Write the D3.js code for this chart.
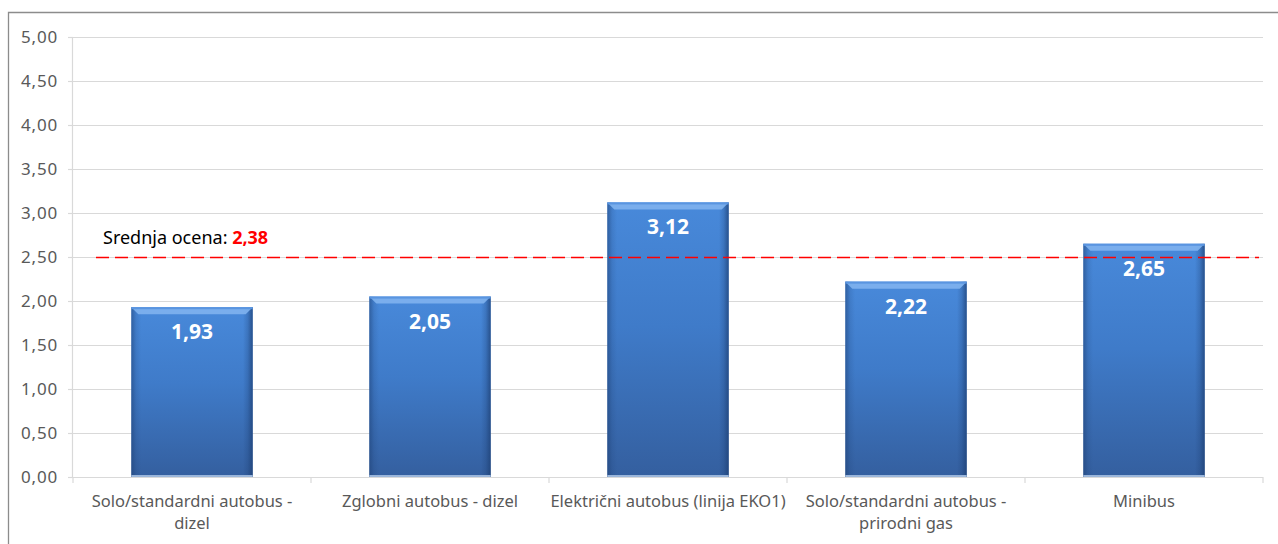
<!DOCTYPE html>
<html>
<head>
<meta charset="utf-8">
<script src="https://cdn.jsdelivr.net/npm/d3@7"></script>
<style>
  html, body { margin: 0; padding: 0; background: #fff; }
  svg text { font-family: "Noto Sans", "Open Sans", sans-serif; }
</style>
</head>
<body>
<div id="chart"></div>
<script>
const categories = [
  ['Solo/standardni autobus -', 'dizel'],
  ['Zglobni autobus - dizel'],
  ['Električni autobus (linija EKO1)'],
  ['Solo/standardni autobus -', 'prirodni gas'],
  ['Minibus']
];
const values = [1.93, 2.05, 3.12, 2.22, 2.65];
const yTicks = [0, 0.5, 1, 1.5, 2, 2.5, 3, 3.5, 4, 4.5, 5];
const meanLineValue = 2.5;
const meanLabel = 'Srednja ocena: ';
const meanValueText = '2,38';

const W = 1278, H = 544;
const margin = { top: 37, right: 15, bottom: 67, left: 73 };
const width = 1263 - margin.left;
const height = 477 - margin.top;

const fmt = v => d3.format('.2f')(v).replace('.', ',');

const svg = d3.select('#chart').append('svg')
  .attr('width', W).attr('height', H);

// outer chart frame
svg.append('path')
  .attr('d', `M8.5,${H} L8.5,12.5 L${W},12.5`)
  .attr('fill', 'none').attr('stroke', '#8c8c8c').attr('stroke-width', 1.3);

const defs = svg.append('defs');
const vg = defs.append('linearGradient').attr('id', 'barV')
  .attr('x1', 0).attr('y1', 0).attr('x2', 0).attr('y2', 1);
vg.append('stop').attr('offset', '0%').attr('stop-color', '#4889da');
vg.append('stop').attr('offset', '45%').attr('stop-color', '#3f7bc9');
vg.append('stop').attr('offset', '100%').attr('stop-color', '#345f9f');
const hg = defs.append('linearGradient').attr('id', 'barH')
  .attr('x1', 0).attr('y1', 0).attr('x2', 1).attr('y2', 0);
hg.append('stop').attr('offset', '0%').attr('stop-color', '#1d3f73').attr('stop-opacity', 0.55);
hg.append('stop').attr('offset', '4%').attr('stop-color', '#1d3f73').attr('stop-opacity', 0.15);
hg.append('stop').attr('offset', '8%').attr('stop-color', '#1d3f73').attr('stop-opacity', 0);
hg.append('stop').attr('offset', '92%').attr('stop-color', '#1d3f73').attr('stop-opacity', 0);
hg.append('stop').attr('offset', '96%').attr('stop-color', '#1d3f73').attr('stop-opacity', 0.25);
hg.append('stop').attr('offset', '100%').attr('stop-color', '#1d3f73').attr('stop-opacity', 0.75);

const g = svg.append('g').attr('transform', `translate(${margin.left},${margin.top})`);

const x = d3.scaleBand().domain(d3.range(values.length)).range([0, width]).paddingInner(0.49).paddingOuter(0.245);
const y = d3.scaleLinear().domain([0, 5]).range([height, 0]);

// gridlines
g.append('g').selectAll('line').data(yTicks.filter(t => t > 0)).enter().append('line')
  .attr('x1', 0).attr('x2', width)
  .attr('y1', d => y(d) + 0.5).attr('y2', d => y(d) + 0.5)
  .attr('stroke', '#d9d9d9').attr('stroke-width', 1.2);

// y axis
const yAxis = g.append('g').call(d3.axisLeft(y).tickValues(yTicks).tickFormat(fmt).tickSize(5).tickPadding(10));
yAxis.select('.domain').attr('stroke', '#d9d9d9').attr('stroke-width', 1.2).attr('d', `M-0.5,${height}V0`);
yAxis.selectAll('.tick line').attr('stroke', '#d9d9d9').attr('stroke-width', 1.2);
yAxis.selectAll('.tick text').attr('fill', '#595959').style('font-size', '17px').style('letter-spacing', '0.8px');

// x axis
const step = width / values.length;
const xAxis = g.append('g').attr('transform', `translate(0,${height})`);
xAxis.append('line').attr('x1', 0).attr('x2', width).attr('y1', 0.5).attr('y2', 0.5)
  .attr('stroke', '#d9d9d9').attr('stroke-width', 1.2);
xAxis.selectAll('line.tk').data(d3.range(values.length + 1)).enter().append('line')
  .attr('class', 'tk')
  .attr('x1', d => d * step).attr('x2', d => d * step)
  .attr('y1', 0).attr('y2', 6)
  .attr('stroke', '#d9d9d9').attr('stroke-width', 1.2);
xAxis.selectAll('text.cat').data(categories).enter().append('text')
  .attr('class', 'cat')
  .attr('text-anchor', 'middle')
  .attr('fill', '#595959')
  .style('font-size', '16.5px')
  .attr('transform', (d, i) => `translate(${x(i) + x.bandwidth() / 2},0)`)
  .each(function (d) {
    d.forEach((line, k) => {
      d3.select(this).append('tspan').attr('x', 0).attr('y', 30 + k * 22).text(line);
    });
  });

// bars
const bars = g.append('g').selectAll('g.bar').data(values).enter().append('g').attr('class', 'bar');
bars.append('rect')
  .attr('x', (d, i) => x(i)).attr('y', d => y(d))
  .attr('width', x.bandwidth()).attr('height', d => height - y(d))
  .attr('fill', 'url(#barV)');
bars.append('rect')
  .attr('x', (d, i) => x(i)).attr('y', d => y(d))
  .attr('width', x.bandwidth()).attr('height', d => height - y(d))
  .attr('fill', 'url(#barH)');
// top bevel
bars.append('path')
  .attr('d', (d, i) => {
    const x0 = x(i), x1 = x(i) + x.bandwidth(), t = y(d);
    return `M${x0},${t} L${x1},${t} L${x1 - 7},${t + 7} L${x0 + 7},${t + 7} Z`;
  })
  .attr('fill', '#7fb3ee').attr('opacity', 0.9);
bars.append('rect')
  .attr('x', (d, i) => x(i)).attr('y', d => y(d))
  .attr('width', x.bandwidth()).attr('height', 2)
  .attr('fill', '#5a95e0');
// bottom edge
bars.append('rect')
  .attr('x', (d, i) => x(i)).attr('y', height - 2)
  .attr('width', x.bandwidth()).attr('height', 2)
  .attr('fill', '#9ab6db');

// value labels
bars.append('text')
  .attr('x', (d, i) => x(i) + x.bandwidth() / 2)
  .attr('y', d => y(d) + 32)
  .attr('text-anchor', 'middle')
  .attr('fill', '#ffffff')
  .style('font-size', '21px').style('font-weight', 'bold')
  .text(d => fmt(d));

// mean line
g.append('line')
  .attr('x1', 23).attr('x2', width - 4)
  .attr('y1', y(meanLineValue) + 0.5).attr('y2', y(meanLineValue) + 0.5)
  .attr('stroke', '#ff0000').attr('stroke-width', 1.5)
  .attr('stroke-dasharray', '13,6');

const ml = g.append('text')
  .attr('x', 30).attr('y', y(meanLineValue) - 13)
  .style('font-size', '18px').attr('fill', '#000');
ml.append('tspan').text(meanLabel);
ml.append('tspan').attr('fill', '#ff0000').style('font-weight', 'bold').text(meanValueText);
</script>
</body>
</html>
